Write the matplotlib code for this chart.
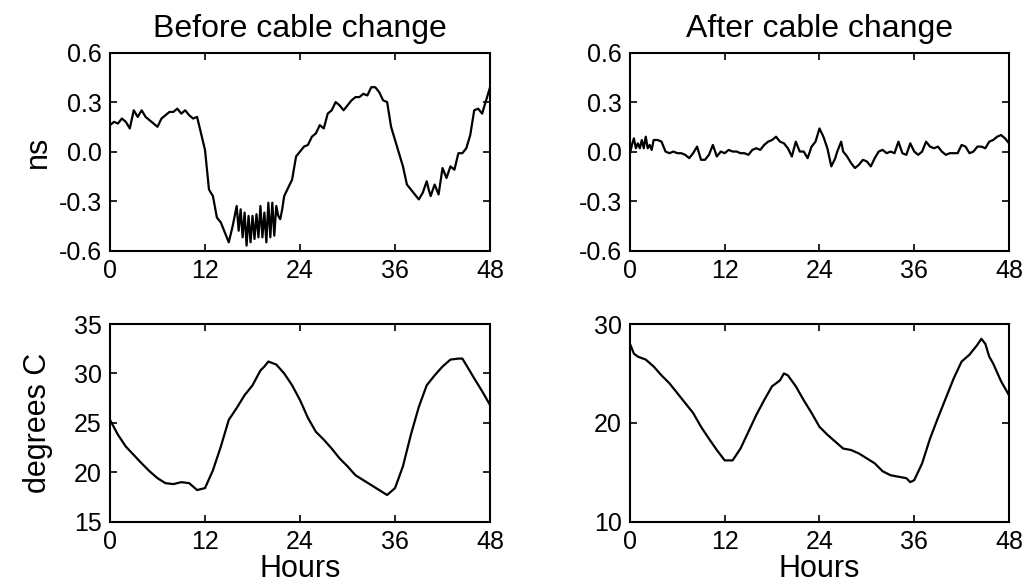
import matplotlib
matplotlib.use("Agg")
import matplotlib.pyplot as plt

plt.rcParams['font.family'] = ['Liberation Sans', 'DejaVu Sans']

# delay, before cable change (ns)
before_ns_t = [0, 0.5, 1, 1.5, 2, 2.5, 3, 3.5, 4, 4.5, 5, 5.5, 6, 6.5, 7, 7.5, 8, 8.5,
               9, 9.5, 10, 10.5, 11, 11.5, 12, 12.5, 13, 13.5, 14, 14.5, 15, 15.5,
               16, 16.25, 16.5, 16.75, 17, 17.25, 17.5, 17.75, 18, 18.25, 18.5, 18.75,
               19, 19.25, 19.5, 19.75, 20, 20.25, 20.5, 20.75, 21, 21.25, 21.5, 21.75,
               22, 22.5, 23, 23.5, 24, 24.5, 25, 25.5, 26, 26.5, 27, 27.5, 28, 28.5,
               29, 29.5, 30, 30.5, 31, 31.5, 32, 32.5, 33, 33.5, 34, 34.5, 35, 35.5,
               36, 36.5, 37, 37.5, 38, 38.5, 39, 39.5, 40, 40.25, 40.5, 41, 41.5, 42,
               42.5, 43, 43.5, 44, 44.5, 45, 45.5, 46, 46.5, 47, 47.5, 48]
before_ns = [0.16, 0.18, 0.17, 0.20, 0.18, 0.14, 0.25, 0.21, 0.25, 0.21, 0.19, 0.17,
             0.15, 0.20, 0.22, 0.24, 0.24, 0.26, 0.23, 0.25, 0.22, 0.20, 0.21, 0.11,
             0.01, -0.23, -0.27, -0.40, -0.43, -0.49, -0.55, -0.45,
             -0.33, -0.48, -0.35, -0.52, -0.37, -0.57, -0.39, -0.55, -0.39, -0.53,
             -0.38, -0.52, -0.33, -0.52, -0.37, -0.55, -0.31, -0.52, -0.31, -0.51,
             -0.33, -0.39, -0.41, -0.35, -0.27, -0.22, -0.17, -0.03, 0.00,
             0.03, 0.04, 0.09, 0.11, 0.16, 0.14, 0.23, 0.25, 0.30, 0.28, 0.25, 0.28,
             0.31, 0.33, 0.33, 0.35, 0.34, 0.39, 0.39, 0.36, 0.31, 0.30, 0.15, 0.07,
             -0.01, -0.09, -0.20, -0.23, -0.26, -0.29, -0.25, -0.18, -0.23, -0.27,
             -0.20, -0.26, -0.10, -0.16, -0.09, -0.11, -0.01, -0.01, 0.02, 0.10,
             0.25, 0.26, 0.23, 0.31, 0.39]

# delay, after cable change (ns)
after_ns_t = [0, 0.25, 0.5, 0.75, 1, 1.25, 1.5, 1.75, 2, 2.25, 2.5, 2.75, 3, 3.5, 4,
              4.5, 5, 5.5, 6, 6.5, 7, 7.5, 8, 8.5, 9, 9.5, 10, 10.5, 11, 11.5, 12,
              12.5, 13, 13.5, 14, 14.5, 15, 15.5, 16, 16.5, 17, 17.5, 18, 18.5, 19,
              19.5, 20, 20.5, 21, 21.5, 22, 22.5, 23, 23.5, 24, 24.5, 25, 25.5, 26,
              26.25, 26.5, 26.75, 27, 27.5, 28, 28.5, 29, 29.5, 30, 30.5, 31, 31.5,
              32, 32.5, 33, 33.5, 34, 34.5, 35, 35.5, 36, 36.5, 37, 37.5, 38, 38.5,
              39, 39.5, 40, 40.5, 41, 41.5, 42, 42.5, 43, 43.5, 44, 44.5, 45, 45.5,
              46, 46.5, 47, 47.5, 48]
after_ns = [-0.01, 0.04, 0.08, 0.02, 0.05, 0.02, 0.07, 0.02, 0.09, 0.02, 0.04, 0.01,
            0.07, 0.07, 0.06, 0.00, -0.01, 0.00, -0.01, -0.01, -0.02, -0.04, -0.01,
            0.03, -0.05, -0.05, -0.02, 0.04, -0.03, 0.00, -0.01, 0.01, 0.00, 0.00,
            -0.01, -0.01, -0.02, 0.01, 0.02, 0.01, 0.04, 0.06, 0.07, 0.09, 0.06,
            0.05, 0.02, -0.03, 0.06, 0.00, 0.00, -0.04, 0.03, 0.06, 0.14, 0.09,
            0.02, -0.09, -0.04, 0.00, 0.03, 0.06, 0.00, -0.03, -0.07, -0.10, -0.08,
            -0.05, -0.06, -0.09, -0.04, 0.00, 0.01, -0.01, 0.00, -0.01, 0.06, -0.01,
            -0.02, 0.05, 0.00, -0.02, 0.00, 0.06, 0.03, 0.02, 0.03, 0.00, -0.02,
            -0.01, -0.01, -0.01, 0.04, 0.03, -0.01, 0.00, 0.03, 0.03, 0.02, 0.06,
            0.07, 0.09, 0.10, 0.08, 0.05]

# temperature, before cable change (degrees C)
before_temp_t = [0, 1, 2, 3, 4, 5, 6, 7, 8, 9, 10, 11, 12, 13, 14, 15, 16, 17, 18, 19,
                 19.5, 20, 21, 22, 23, 24, 25, 26, 27, 28, 29, 30, 31, 32, 33, 34, 35,
                 36, 37, 38, 39, 40, 41, 42, 43, 44, 44.5, 45, 46, 47, 48]
before_temp = [25.3, 23.8, 22.6, 21.75, 20.9, 20.1, 19.4, 18.9, 18.8, 19.0, 18.9,
               18.2, 18.4, 20.2, 22.6, 25.3, 26.5, 27.8, 28.8, 30.3, 30.7, 31.2,
               30.9, 30.0, 28.8, 27.3, 25.5, 24.1, 23.3, 22.4, 21.4, 20.6, 19.7,
               19.2, 18.7, 18.2, 17.7, 18.4, 20.6, 23.8, 26.6, 28.8, 29.8, 30.7,
               31.4, 31.5, 31.5, 30.85, 29.5, 28.2, 26.8]

# temperature, after cable change (degrees C)
after_temp_t = [0, 0.5, 1, 2, 3, 4, 5, 6, 7, 8, 9, 10, 11, 12, 13, 14, 15, 16, 17, 18,
                19, 19.5, 20, 21, 22, 23, 24, 25, 26, 27, 28, 29, 30, 31, 32, 33, 34,
                35, 35.5, 36, 37, 38, 39, 40, 41, 42, 43, 44, 44.5, 45, 45.5, 46, 47,
                48]
after_temp = [28.0, 27.0, 26.7, 26.4, 25.7, 24.8, 24.0, 23.0, 22.0, 21.0, 19.6, 18.4,
              17.25, 16.2, 16.2, 17.4, 19.1, 20.8, 22.3, 23.7, 24.3, 25.0, 24.8,
              23.7, 22.3, 21.0, 19.6, 18.8, 18.1, 17.4, 17.25, 16.9, 16.4, 15.9,
              15.1, 14.7, 14.55, 14.4, 14.0, 14.2, 15.9, 18.4, 20.5, 22.5, 24.5,
              26.2, 26.9, 27.9, 28.5, 28.0, 26.7, 26.0, 24.2, 22.8]

hour_ticks = [0, 12, 24, 36, 48]
ns_ticks = [-0.6, -0.3, 0.0, 0.3, 0.6]
before_temp_ticks = [15, 20, 25, 30, 35]
after_temp_ticks = [10, 20, 30]

TICK_FS = 18
LABEL_FS = 22
TITLE_FS = 23

fig = plt.figure(figsize=(10.28, 5.84), dpi=100)
axes = [
    fig.add_axes([0.1070, 0.571, 0.3697, 0.339]),
    fig.add_axes([0.6128, 0.571, 0.3687, 0.339]),
    fig.add_axes([0.1070, 0.1067, 0.3697, 0.3385]),
    fig.add_axes([0.6128, 0.1067, 0.3687, 0.3385]),
]

series = [(before_ns_t, before_ns), (after_ns_t, after_ns),
          (before_temp_t, before_temp), (after_temp_t, after_temp)]
for ax, (t, v) in zip(axes, series):
    ax.plot(t, v, color='black', lw=1.6)
    ax.set_xlim(0, 48)
    ax.set_xticks(hour_ticks)
    ax.tick_params(direction='in', top=True, right=True, length=5, width=1.2,
                   labelsize=TICK_FS)
    ax.tick_params(axis='x', pad=6)
    ax.tick_params(axis='y', pad=6)
    for s in ax.spines.values():
        s.set_linewidth(1.5)

for ax in axes[:2]:
    ax.set_ylim(-0.6, 0.6)
    ax.set_yticks(ns_ticks)
    ax.set_yticklabels(['%.1f' % v for v in ns_ticks])

axes[2].set_ylim(15, 35)
axes[2].set_yticks(before_temp_ticks)
axes[3].set_ylim(10, 30)
axes[3].set_yticks(after_temp_ticks)

axes[0].set_title('Before cable change', fontsize=TITLE_FS, pad=11)
axes[1].set_title('After cable change', fontsize=TITLE_FS, pad=11)

axes[0].set_ylabel('ns', fontsize=LABEL_FS, va='center')
axes[0].yaxis.set_label_coords(-0.19, 0.5)
axes[2].set_ylabel('degrees C', fontsize=LABEL_FS, va='center')
axes[2].yaxis.set_label_coords(-0.19, 0.5)

for ax in axes[2:]:
    ax.set_xlabel('Hours', fontsize=LABEL_FS, labelpad=0)

fig.savefig('out.png', dpi=100)
